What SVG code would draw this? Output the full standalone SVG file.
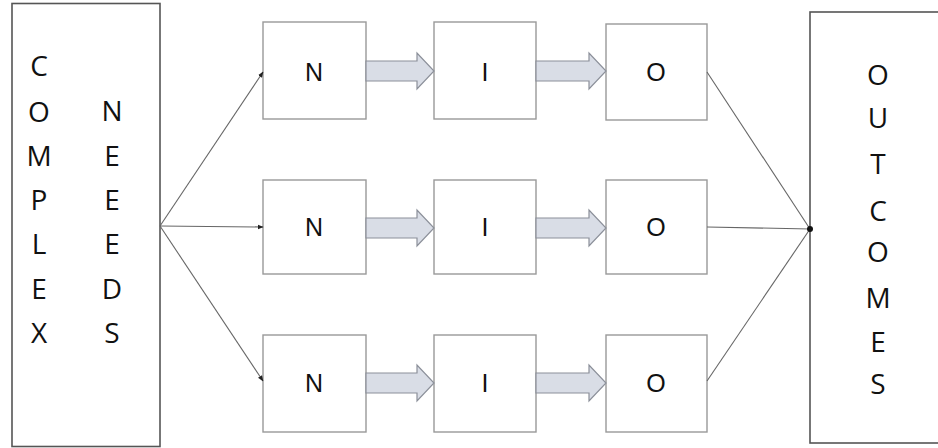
<svg xmlns="http://www.w3.org/2000/svg" width="938" height="448" viewBox="0 0 938 448">
<defs>
<marker id="ah" viewBox="0 0 10 10" refX="9" refY="5" markerWidth="6" markerHeight="6" orient="auto" markerUnits="userSpaceOnUse">
<path d="M0,1 L10,5 L0,9 z" fill="#222"/>
</marker>
<style>
.big{font-family:"Open Sans","Noto Sans",sans-serif;font-size:28px;font-weight:500;fill:#111;text-anchor:middle}
.lbl{font-family:"Liberation Sans",Arial,sans-serif;font-size:25px;fill:#111;text-anchor:middle}
.side{fill:#fff;stroke:#555;stroke-width:1.6}
.box{fill:#fff;stroke:#999;stroke-width:1.4}
.blk{fill:#d9dde6;stroke:#8c909a;stroke-width:1.2}
.ln{stroke:#666;stroke-width:1.1;fill:none}
</style>
</defs>
<rect width="938" height="448" fill="#fff"/>
<g id="complex-needs">
<rect class="side" x="12" y="3.5" width="148" height="443"/>
<text class="big" x="39" y="76">C</text>
<text class="big" x="39" y="122">O</text>
<text class="big" x="39" y="166">M</text>
<text class="big" x="39" y="210">P</text>
<text class="big" x="39" y="254">L</text>
<text class="big" x="39" y="299">E</text>
<text class="big" x="39" y="343">X</text>
<text class="big" x="112" y="121">N</text>
<text class="big" x="112" y="166">E</text>
<text class="big" x="112" y="210">E</text>
<text class="big" x="112" y="254">E</text>
<text class="big" x="112" y="299">D</text>
<text class="big" x="112" y="343">S</text>
</g>
<g id="outcomes">
<rect class="side" x="810" y="12" width="140" height="431"/>
<text class="big" x="878" y="85">O</text>
<text class="big" x="878" y="128">U</text>
<text class="big" x="878" y="174">T</text>
<text class="big" x="878" y="221">C</text>
<text class="big" x="878" y="262">O</text>
<text class="big" x="878" y="308">M</text>
<text class="big" x="878" y="352">E</text>
<text class="big" x="878" y="394">S</text>
</g>
<g id="n1"><rect class="box" x="263" y="22" width="103" height="97"/><text class="lbl" x="314" y="81">N</text></g>
<g id="i1"><rect class="box" x="434" y="22" width="102" height="97"/><text class="lbl" x="485" y="81">I</text></g>
<g id="o1"><rect class="box" x="606" y="24" width="101" height="96"/><text class="lbl" x="656" y="81">O</text></g>
<g id="n2"><rect class="box" x="263" y="180" width="103" height="94"/><text class="lbl" x="314" y="236">N</text></g>
<g id="i2"><rect class="box" x="434" y="180" width="102" height="94"/><text class="lbl" x="485" y="236">I</text></g>
<g id="o2"><rect class="box" x="606" y="180" width="101" height="94"/><text class="lbl" x="656" y="236">O</text></g>
<g id="n3"><rect class="box" x="263" y="335" width="103" height="97"/><text class="lbl" x="314" y="392">N</text></g>
<g id="i3"><rect class="box" x="434" y="335" width="102" height="97"/><text class="lbl" x="485" y="392">I</text></g>
<g id="o3"><rect class="box" x="606" y="335" width="101" height="97"/><text class="lbl" x="656" y="392">O</text></g>
<g id="connectors">
<line class="ln" x1="160" y1="226" x2="263" y2="72" marker-end="url(#ah)"/>
<line class="ln" x1="160" y1="226" x2="263" y2="227" marker-end="url(#ah)"/>
<line class="ln" x1="160" y1="226" x2="263" y2="381" marker-end="url(#ah)"/>
<line class="ln" x1="707" y1="72" x2="810" y2="229"/>
<line class="ln" x1="707" y1="227" x2="810" y2="229"/>
<line class="ln" x1="707" y1="381" x2="810" y2="229"/>
<circle cx="810" cy="229" r="3" fill="#111"/>
<path class="blk" d="M366,61 L417,61 L417,53 L434,71 L417,89 L417,81 L366,81 Z"/>
<path class="blk" d="M536,61 L589,61 L589,53 L606,71 L589,89 L589,81 L536,81 Z"/>
<path class="blk" d="M366,218 L417,218 L417,210 L434,228 L417,246 L417,238 L366,238 Z"/>
<path class="blk" d="M536,218 L589,218 L589,210 L606,228 L589,246 L589,238 L536,238 Z"/>
<path class="blk" d="M366,373 L417,373 L417,365 L434,383 L417,401 L417,393 L366,393 Z"/>
<path class="blk" d="M536,373 L589,373 L589,365 L606,383 L589,401 L589,393 L536,393 Z"/>
</g>
</svg>
